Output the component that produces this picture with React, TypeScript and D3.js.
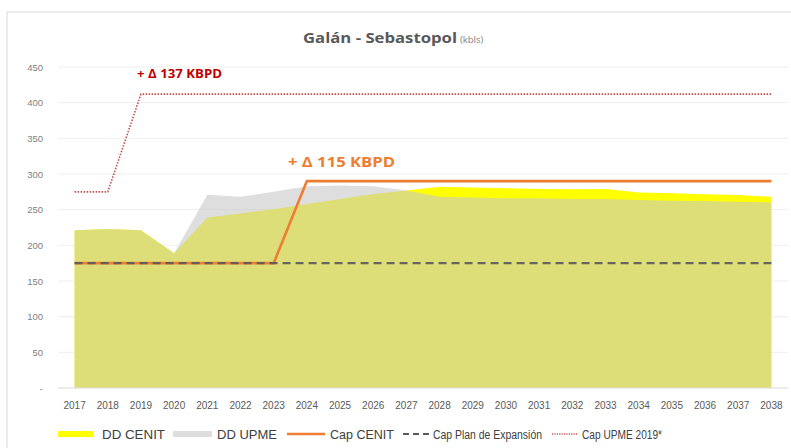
import React from "react";
import * as d3 from "d3";

const years = ["2017","2018","2019","2020","2021","2022","2023","2024","2025","2026","2027","2028","2029","2030","2031","2032","2033","2034","2035","2036","2037","2038"];
const ddCenit = [221, 223, 221, 189, 239, 245, 251, 258, 265, 272, 277, 282, 281, 280, 279, 278.5, 279, 274, 273, 271.5, 270.5, 268];
const ddUpme = [221, 223, 221, 189, 271, 268, 275, 283, 284, 283, 277, 268, 267, 266, 266, 265, 265, 263.5, 262.5, 262, 261, 260];
const capCenit = [175, 175, 175, 175, 175, 175, 175, 290, 290, 290, 290, 290, 290, 290, 290, 290, 290, 290, 290, 290, 290, 290];
const capPlan = [175, 175, 175, 175, 175, 175, 175, 175, 175, 175, 175, 175, 175, 175, 175, 175, 175, 175, 175, 175, 175, 175];
const capUpme = [275, 275, 412, 412, 412, 412, 412, 412, 412, 412, 412, 412, 412, 412, 412, 412, 412, 412, 412, 412, 412, 412];
const yTicks = [0, 50, 100, 150, 200, 250, 300, 350, 400, 450];

const W = 791, H = 448;
const plotL = 58, plotR = 788, plotT = 67, plotB = 388;

export default function App() {
  const x = d3.scaleBand<string>().domain(years).range([plotL, plotR]).padding(0);
  const cx = (i: number) => (x(years[i]) as number) + x.bandwidth() / 2;
  const y = d3.scaleLinear().domain([0, 450]).range([plotB, plotT]);

  const area = (vals: number[]) =>
    d3.area<number>().x((_, i) => cx(i)).y0(y(0)).y1((d) => y(d))(vals) || "";
  const line = (vals: number[]) =>
    d3.line<number>().x((_, i) => cx(i)).y((d) => y(d))(vals) || "";

  const font = "'Liberation Sans', Arial, sans-serif";
  const tfont = "'Open Sans', 'Liberation Sans', sans-serif";

  return (
    <svg width={W} height={H} style={{ position: "absolute", left: 0, top: 0, display: "block", background: "#fff" }}>
      <rect x={0} y={0} width={W} height={H} fill="#fff" />
      <rect x={7} y={12} width={W + 10} height={H + 10} fill="#fff" stroke="#d9d9d9" strokeWidth={1} />
      <text x={303} y={43} fontFamily={tfont} fontSize={14} fontWeight={700} fill="#595959" textLength={154} lengthAdjust="spacingAndGlyphs">Galán - Sebastopol</text>
      <text x={460} y={43} fontFamily={tfont} fontSize={9.5} fill="#7f7f7f">(kbls)</text>

      {yTicks.map((t) => (
        <g key={t}>
          {t > 0 && <line x1={plotL} x2={plotR} y1={y(t)} y2={y(t)} stroke="#eeeeee" strokeWidth={1} />}
          <text x={43} y={y(t) + 3.5} textAnchor="end" fontFamily={font} fontSize={9.5} fill="#7f7f7f">{t === 0 ? "-" : t}</text>
        </g>
      ))}

      <path d={area(ddCenit)} fill="#ffff00" />
      <path d={area(ddUpme)} fill="#c8c8c8" fillOpacity={0.6} />

      <line x1={plotL} x2={plotR} y1={plotB} y2={plotB} stroke="#d9d9d9" strokeWidth={1} />

      <path d={line(capUpme)} fill="none" stroke="#c0504d" strokeWidth={1.6} strokeDasharray="1.5,1.5" />
      <path d={line(capCenit)} fill="none" stroke="#ed7d31" strokeWidth={2.6} />
      <path d={line(capPlan)} fill="none" stroke="#595959" strokeWidth={2.2} strokeDasharray="8,5" opacity={0.9} />

      <text x={137} y={78} fontFamily={tfont} fontSize={11.5} fontWeight={700} fill="#c00000" textLength={85} lengthAdjust="spacingAndGlyphs">+ Δ 137 KBPD</text>
      <text x={288} y={167} fontFamily={tfont} fontSize={14.5} fontWeight={700} fill="#ed7d31" textLength={107} lengthAdjust="spacingAndGlyphs">+ Δ 115 KBPD</text>

      {years.map((yr, i) => (
        <text key={yr} x={cx(i)} y={409} textAnchor="middle" fontFamily={font} fontSize={10} fill="#595959">{yr}</text>
      ))}

      <g fontFamily={font} fontSize={12} fill="#404040">
        <rect x={58} y={431} width={35} height={6} fill="#ffff00" />
        <text x={102} y={438.5} textLength={63} lengthAdjust="spacingAndGlyphs">DD CENIT</text>
        <rect x={173} y={431} width={39} height={6} fill="#dedede" />
        <text x={217} y={438.5} textLength={60} lengthAdjust="spacingAndGlyphs">DD UPME</text>
        <line x1={287} x2={325} y1={434} y2={434} stroke="#ed7d31" strokeWidth={2.6} />
        <text x={330} y={438.5} textLength={64} lengthAdjust="spacingAndGlyphs">Cap CENIT</text>
        <line x1={403} x2={429} y1={434} y2={434} stroke="#595959" strokeWidth={2.2} strokeDasharray="6,4" />
        <text x={433} y={438.5} textLength={109} lengthAdjust="spacingAndGlyphs">Cap Plan de Expansión</text>
        <line x1={552} x2={577} y1={434} y2={434} stroke="#c0504d" strokeWidth={1.4} strokeDasharray="1.2,1.2" />
        <text x={582} y={438.5} textLength={80} lengthAdjust="spacingAndGlyphs">Cap UPME 2019*</text>
      </g>
    </svg>
  );
}
